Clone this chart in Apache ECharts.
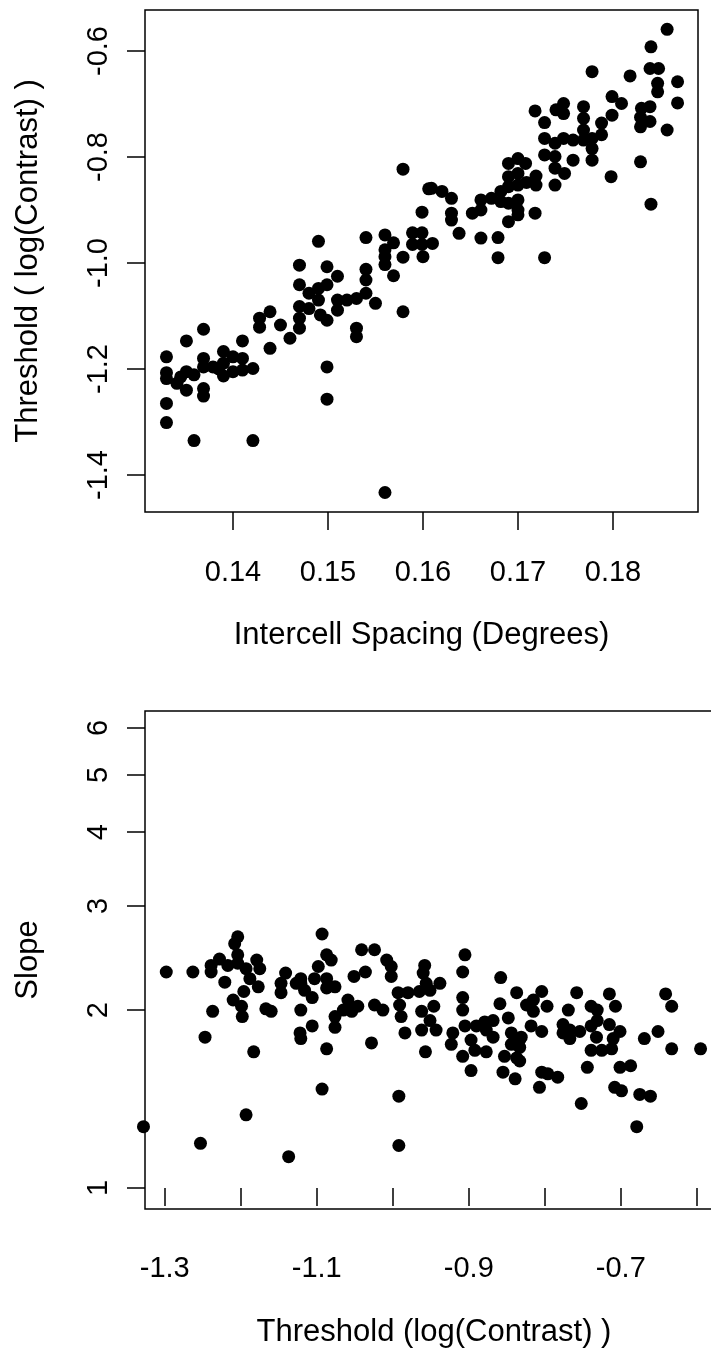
<!DOCTYPE html>
<html lang="en">
<head>
    <meta charset="UTF-8">
    <title>Threshold vs spacing, slope vs threshold</title>
    <script src="https://cdn.jsdelivr.net/npm/echarts@6.0.0/dist/echarts.min.js"></script>
    <style>
        html, body { margin: 0; padding: 0; background: #fff; }
        #main { width: 711px; height: 1357px; }
    </style>
</head>
<body>

<div id="main"></div>

<script>
    // top panel: intercell spacing (deg) vs threshold (log contrast)
    const spacing = [
        0.1579, 0.1606, 0.1599, 0.1490, 0.1540, 0.1560, 0.1569, 0.1560, 0.1560, 0.1560,
        0.1579, 0.1589, 0.1599, 0.1589, 0.1599, 0.1600, 0.1470, 0.1499, 0.1510, 0.1540,
        0.1569, 0.1540, 0.1579, 0.1470, 0.1480, 0.1490, 0.1499, 0.1490, 0.1470, 0.1470,
        0.1470, 0.1460, 0.1450, 0.1439, 0.1428, 0.1428, 0.1439, 0.1410, 0.1480, 0.1492,
        0.1499, 0.1510, 0.1510, 0.1520, 0.1530, 0.1540, 0.1550, 0.1530, 0.1530, 0.1499,
        0.1499, 0.1560, 0.1359, 0.1421, 0.1330, 0.1330, 0.1330, 0.1330, 0.1330, 0.1341,
        0.1351, 0.1351, 0.1351, 0.1359, 0.1369, 0.1369, 0.1369, 0.1369, 0.1369, 0.1379,
        0.1390, 0.1390, 0.1390, 0.1400, 0.1400, 0.1410, 0.1410, 0.1421, 0.1385, 0.1345,
        0.1857, 0.1840, 0.1839, 0.1848, 0.1778, 0.1818, 0.1847, 0.1847, 0.1868, 0.1868,
        0.1799, 0.1809, 0.1830, 0.1839, 0.1829, 0.1839, 0.1857, 0.1829, 0.1799, 0.1788,
        0.1788, 0.1769, 0.1769, 0.1769, 0.1769, 0.1778, 0.1778, 0.1778, 0.1758, 0.1758,
        0.1748, 0.1748, 0.1740, 0.1748, 0.1739, 0.1718, 0.1728, 0.1728, 0.1728, 0.1739,
        0.1739, 0.1739, 0.1749, 0.1798, 0.1829, 0.1840, 0.1700, 0.1708, 0.1690, 0.1690,
        0.1690, 0.1700, 0.1709, 0.1719, 0.1719, 0.1700, 0.1682, 0.1672, 0.1661, 0.1661,
        0.1652, 0.1682, 0.1690, 0.1700, 0.1700, 0.1690, 0.1700, 0.1718, 0.1609, 0.1620,
        0.1630, 0.1630, 0.1630, 0.1610, 0.1638, 0.1661, 0.1679, 0.1679, 0.1728
    ];
    const threshold = [
        -0.823, -0.860, -0.904, -0.959, -0.952, -0.947, -0.962, -0.975, -0.988, -1.003,
        -0.989, -0.943, -0.943, -0.965, -0.965, -0.988, -1.004, -1.007, -1.025, -1.012,
        -1.024, -1.032, -1.092, -1.041, -1.057, -1.048, -1.041, -1.070, -1.082, -1.104,
        -1.123, -1.142, -1.117, -1.092, -1.104, -1.121, -1.161, -1.147, -1.086, -1.098,
        -1.108, -1.070, -1.089, -1.070, -1.067, -1.057, -1.076, -1.123, -1.139, -1.196,
        -1.257, -1.433, -1.335, -1.335, -1.177, -1.207, -1.218, -1.265, -1.301, -1.227,
        -1.147, -1.205, -1.240, -1.211, -1.125, -1.180, -1.196, -1.237, -1.251, -1.196,
        -1.167, -1.189, -1.213, -1.177, -1.205, -1.180, -1.202, -1.199, -1.200, -1.215,
        -0.559, -0.592, -0.633, -0.633, -0.639, -0.647, -0.661, -0.677, -0.658, -0.698,
        -0.686, -0.699, -0.708, -0.705, -0.725, -0.733, -0.749, -0.743, -0.721, -0.736,
        -0.758, -0.705, -0.727, -0.749, -0.768, -0.765, -0.784, -0.806, -0.768, -0.806,
        -0.699, -0.718, -0.711, -0.765, -0.774, -0.713, -0.735, -0.765, -0.796, -0.799,
        -0.821, -0.853, -0.831, -0.837, -0.809, -0.889, -0.803, -0.812, -0.812, -0.837,
        -0.856, -0.831, -0.848, -0.836, -0.853, -0.853, -0.865, -0.878, -0.881, -0.900,
        -0.906, -0.884, -0.887, -0.881, -0.900, -0.922, -0.909, -0.906, -0.859, -0.865,
        -0.878, -0.906, -0.919, -0.963, -0.944, -0.953, -0.952, -0.990, -0.990
    ];
    const spacingTicks = [0.14, 0.15, 0.16, 0.17, 0.18];
    const thresholdTicks = [-1.4, -1.2, -1.0, -0.8, -0.6];

    // bottom panel: threshold (log contrast) vs psychometric slope
    const threshold2 = [
        -1.298, -1.263, -1.204, -1.208, -1.239, -1.239, -1.228, -1.217, -1.204, -1.204,
        -1.193, -1.179, -1.175, -1.188, -1.177, -1.221, -1.196, -1.210, -1.199, -1.198,
        -1.237, -1.167, -1.160, -1.247, -1.183, -1.193, -1.253, -1.137, -1.328, -1.141,
        -1.147, -1.147, -1.121, -1.121, -1.127, -1.116, -1.106, -1.121, -1.106, -1.122,
        -1.121, -1.087, -1.093, -1.093, -1.087, -1.081, -1.098, -1.103, -1.087, -1.087,
        -1.076, -1.076, -1.076, -1.041, -1.024, -1.008, -1.002, -1.002, -1.036, -1.051,
        -1.059, -1.065, -1.054, -1.046, -1.028, -1.024, -1.013, -0.993, -0.980, -0.991,
        -0.989, -0.984, -0.965, -0.958, -0.960, -0.956, -0.951, -0.938, -0.962, -0.962,
        -0.946, -0.951, -0.943, -0.957, -0.992, -0.992, -0.905, -0.908, -0.908, -0.908,
        -0.905, -0.921, -0.923, -0.908, -0.897, -0.897, -0.892, -0.890, -0.879, -0.868,
        -0.877, -0.868, -0.877, -0.858, -0.859, -0.848, -0.837, -0.824, -0.844, -0.833,
        -0.844, -0.831, -0.833, -0.853, -0.837, -0.833, -0.855, -0.839, -0.804, -0.815,
        -0.815, -0.797, -0.758, -0.769, -0.739, -0.731, -0.731, -0.715, -0.707, -0.818,
        -0.804, -0.776, -0.776, -0.767, -0.754, -0.767, -0.739, -0.732, -0.715, -0.701,
        -0.710, -0.739, -0.725, -0.712, -0.669, -0.651, -0.641, -0.633, -0.633, -0.595,
        -0.744, -0.701, -0.687, -0.804, -0.796, -0.783, -0.807, -0.708, -0.699, -0.675,
        -0.661, -0.752, -0.679
    ];
    const slope = [
        2.32, 2.32, 2.66, 2.59, 2.38, 2.32, 2.44, 2.38, 2.48, 2.40,
        2.35, 2.43, 2.35, 2.26, 2.19, 2.23, 2.15, 2.08, 2.03, 1.95,
        1.99, 2.01, 1.99, 1.80, 1.70, 1.33, 1.19, 1.13, 1.27, 2.31,
        2.22, 2.14, 2.26, 2.22, 2.22, 2.16, 2.10, 2.00, 1.88, 1.83,
        1.79, 1.72, 1.47, 2.69, 2.48, 2.43, 2.37, 2.26, 2.26, 2.18,
        2.19, 1.95, 1.87, 2.53, 2.53, 2.43, 2.37, 2.28, 2.32, 2.28,
        2.08, 2.00, 1.99, 2.03, 1.76, 2.04, 2.00, 2.14, 2.14, 2.04,
        1.95, 1.83, 2.15, 2.38, 2.31, 2.22, 2.16, 2.22, 1.99, 1.85,
        2.03, 1.92, 1.85, 1.70, 1.43, 1.18, 2.48, 2.32, 2.10, 2.00,
        1.88, 1.83, 1.75, 1.67, 1.58, 1.78, 1.71, 1.88, 1.91, 1.92,
        1.85, 1.80, 1.70, 2.27, 2.05, 1.94, 2.14, 2.04, 1.83, 1.78,
        1.75, 1.80, 1.73, 1.67, 1.66, 1.64, 1.57, 1.53, 2.15, 2.08,
        1.99, 2.03, 2.14, 2.00, 2.03, 2.00, 1.92, 2.13, 2.03, 1.88,
        1.84, 1.89, 1.83, 1.79, 1.84, 1.85, 1.88, 1.80, 1.89, 1.84,
        1.79, 1.71, 1.71, 1.72, 1.79, 1.84, 2.13, 2.03, 1.72, 1.72,
        1.60, 1.60, 1.61, 1.57, 1.56, 1.54, 1.48, 1.48, 1.46, 1.44,
        1.43, 1.39, 1.27
    ];
    const thresholdTicks2 = [-1.3, -1.2, -1.1, -1.0, -0.9, -0.8, -0.7, -0.6];
    const thresholdLabels2 = [-1.3, -1.1, -0.9, -0.7];
    const slopeTicks = [1, 2, 3, 4, 5, 6];

    const FONT = 'Liberation Sans, Arial, sans-serif';
    const tickStyle = { color: '#000', width: 1.5 };

    const chart = echarts.init(document.getElementById('main'), null, { renderer: 'canvas' });

    function axisText(size) {
        return { color: '#000', fontSize: size, fontFamily: FONT };
    }

    const option = {
        animation: false,
        backgroundColor: '#fff',
        grid: [
            { left: 145, top: 10, width: 553, height: 502, show: true, borderColor: '#000', borderWidth: 1.5, outerBoundsMode: 'none' },
            // right side of the lower panel runs past the edge of the picture
            { left: 145, top: 711, width: 578, height: 498, show: true, borderColor: '#000', borderWidth: 1.5, outerBoundsMode: 'none' }
        ],
        xAxis: [
            {
                gridIndex: 0, type: 'value', min: 0.13074, max: 0.18895,
                axisLine: { show: false }, splitLine: { show: false },
                axisTick: { length: 18, lineStyle: tickStyle, customValues: spacingTicks },
                axisLabel: Object.assign(axisText(29), { margin: 46, customValues: spacingTicks, formatter: v => v.toFixed(2) }),
                name: 'Intercell Spacing (Degrees)', nameLocation: 'middle', nameGap: 108,
                nameTextStyle: axisText(31)
            },
            {
                gridIndex: 1, type: 'value', min: -1.326, max: -0.5655,
                axisLine: { show: false }, splitLine: { show: false },
                axisTick: { length: 18, lineStyle: tickStyle, customValues: thresholdTicks2 },
                axisLabel: Object.assign(axisText(29), { margin: 45, customValues: thresholdLabels2, formatter: v => v.toFixed(1) }),
                name: 'Threshold (log(Contrast) )', nameLocation: 'middle', nameGap: 108,
                nameTextStyle: axisText(31)
            }
        ],
        yAxis: [
            {
                gridIndex: 0, type: 'value', min: -1.4698, max: -0.5226,
                axisLine: { show: false }, splitLine: { show: false },
                axisTick: { length: 18, lineStyle: tickStyle, customValues: thresholdTicks },
                axisLabel: Object.assign(axisText(29), { rotate: 90, margin: 32, customValues: thresholdTicks, formatter: v => v.toFixed(1) }),
                name: 'Threshold ( log(Contrast) )', nameLocation: 'middle', nameGap: 101,
                nameTextStyle: axisText(31)
            },
            {
                // slope is on a log scale: positions are log10 of the value
                gridIndex: 1, type: 'value', min: -0.0355, max: 0.807,
                axisLine: { show: false }, splitLine: { show: false },
                axisTick: { length: 18, lineStyle: tickStyle, customValues: slopeTicks.map(Math.log10) },
                axisLabel: Object.assign(axisText(29), {
                    rotate: 90, margin: 32, customValues: slopeTicks.map(Math.log10),
                    formatter: v => String(Math.round(Math.pow(10, v)))
                }),
                name: 'Slope', nameLocation: 'middle', nameGap: 101,
                nameTextStyle: axisText(31)
            }
        ],
        series: [
            {
                type: 'scatter', xAxisIndex: 0, yAxisIndex: 0,
                symbol: 'circle', symbolSize: 13, itemStyle: { color: '#000', opacity: 1 },
                data: spacing.map((x, i) => [x, threshold[i]])
            },
            {
                type: 'scatter', xAxisIndex: 1, yAxisIndex: 1, clip: false,
                symbol: 'circle', symbolSize: 13, itemStyle: { color: '#000', opacity: 1 },
                data: threshold2.map((x, i) => [x, Math.log10(slope[i])])
            }
        ]
    };

    chart.setOption(option);
</script>

</body>
</html>
